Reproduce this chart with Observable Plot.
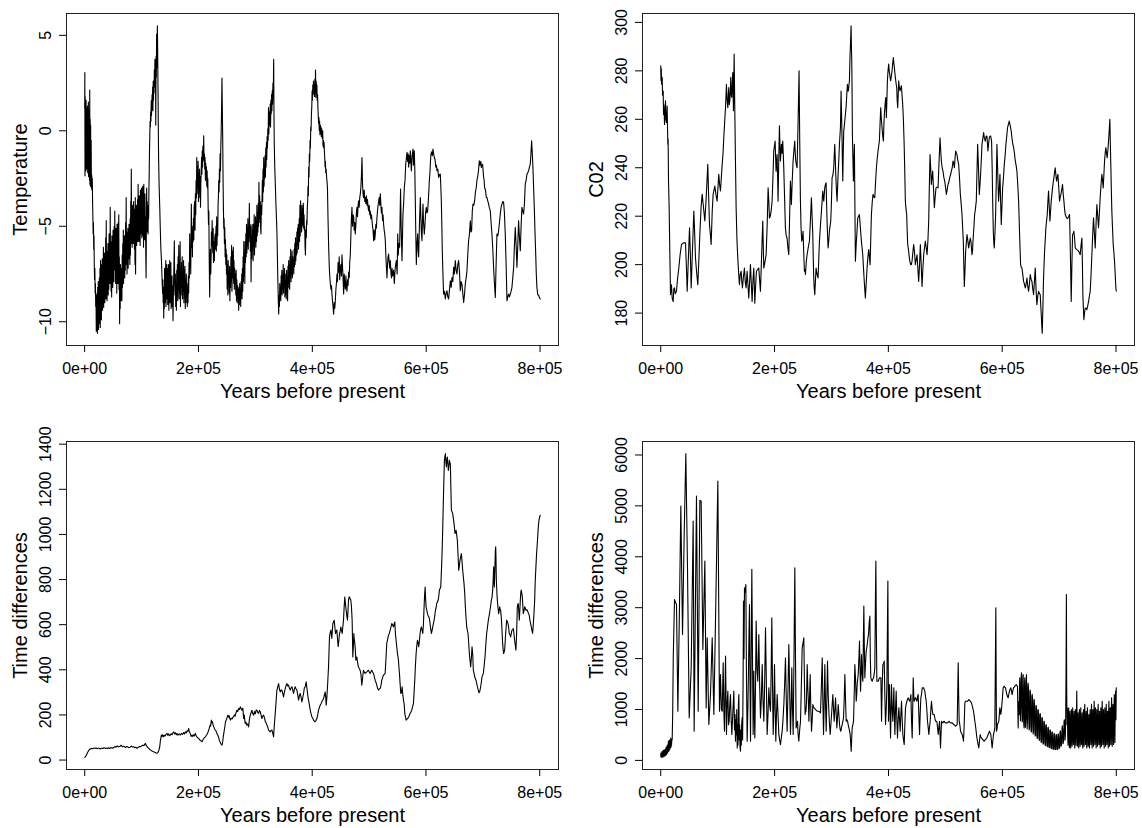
<!DOCTYPE html>
<html><head><meta charset="utf-8">
<script src="https://cdn.jsdelivr.net/npm/d3@7"></script>
<script src="https://cdn.jsdelivr.net/npm/@observablehq/plot@0.6"></script>
<style>
body{margin:0;background:#fff;}
#chart{position:relative;width:1142px;height:828px;font-family:"Liberation Sans",Arial,sans-serif;}
#chart svg{position:absolute;overflow:visible;}
</style></head><body><div id="chart"></div>
<script>
// [thousand years before present, value]
const temperature = [[0.2,1.2],[0.4,3.05],[0.7,-2.36],[1.0,1.8],[1.4,-1.9],[1.8,1.4],[2.2,-2.1],[2.6,1.6],[3.0,-1.5],[3.4,1.2],[3.8,-2.0],[4.2,1.0],[4.6,-1.6],[5.0,1.3],[5.4,-2.2],[5.8,0.9],[6.2,-1.8],[6.6,1.5],[7.0,-2.4],[7.4,0.8],[7.8,-1.9],[8.2,1.1],[8.6,-2.6],[9.0,2.13],[9.4,-2.8],[9.8,0.6],[10.2,-2.9],[10.6,0.3],[11.0,-2.6],[11.5,-0.5],[12,-3.0],[12.5,-2.3],[13,-3.1],[13.5,-2.5],[14,-3.7],[14.5,-4.5],[15,-5.4],[15.5,-4.8],[16,-6.2],[16.5,-5.5],[17,-7.0],[17.5,-7.8],[18,-7.2],[18.5,-8.5],[19,-8.0],[19.5,-9.2],[20,-8.6],[20.5,-10.5],[21,-9.0],[21.5,-10.2],[22,-8.5],[22.5,-10.6],[23,-8.2],[23.5,-10.0],[24,-7.9],[24.5,-10.4],[25,-8.4],[25.5,-9.6],[26,-7.7],[26.5,-10.1],[27,-7.2],[27.5,-10.3],[28,-6.8],[28.5,-9.5],[29,-7.4],[29.5,-9.9],[30,-7.0],[30.5,-9.2],[31,-6.7],[31.5,-9.4],[32,-7.3],[32.5,-8.9],[33,-6.1],[33.5,-9.25],[34,-6.9],[34.5,-8.7],[35,-6.4],[35.5,-9.0],[36,-7.1],[36.5,-8.4],[37,-5.6],[37.5,-8.8],[38,-4.7],[38.5,-8.1],[39,-6.3],[39.5,-8.9],[40,-6.8],[40.5,-8.2],[41,-5.9],[41.5,-8.6],[42,-6.5],[42.5,-8.3],[43,-5.4],[43.5,-7.9],[44,-6.2],[44.5,-8.0],[45,-4.0],[45.5,-7.6],[46,-5.8],[46.5,-8.4],[47,-6.3],[47.5,-8.7],[48,-5.5],[48.5,-7.8],[49,-6.6],[49.5,-8.2],[50,-5.2],[50.5,-7.4],[51,-6.0],[51.5,-7.9],[52,-5.0],[52.5,-7.1],[53,-4.2],[53.5,-7.3],[54,-5.6],[54.5,-8.0],[55,-5.1],[55.5,-7.6],[56,-6.0],[56.5,-8.5],[57,-4.9],[57.5,-7.5],[58,-5.5],[58.5,-8.0],[59,-4.8],[59.5,-7.2],[60,-4.4],[60.5,-8.3],[61,-6.6],[61.5,-10.1],[62,-7.5],[62.5,-9.3],[63,-7.0],[63.5,-8.9],[64,-7.8],[64.5,-8.6],[65,-7.2],[65.5,-8.9],[66,-6.5],[66.5,-8.2],[67,-5.9],[67.5,-7.8],[68,-5.2],[68.5,-8.0],[69,-6.0],[69.5,-7.4],[70,-5.5],[70.5,-7.7],[71,-6.2],[71.5,-7.3],[72,-4.8],[72.5,-7.0],[73,-3.5],[73.5,-6.8],[74,-5.3],[74.5,-7.5],[75,-5.8],[75.5,-7.0],[76,-5.1],[76.5,-7.2],[77,-5.5],[77.5,-6.7],[78,-4.9],[78.5,-6.3],[79,-5.6],[79.5,-7.0],[80,-4.6],[80.5,-6.5],[81,-3.7],[81.5,-5.9],[82,-2.0],[82.5,-5.4],[83,-4.2],[83.5,-6.1],[84,-3.9],[84.5,-5.7],[85,-4.4],[85.5,-5.9],[86,-3.7],[86.5,-5.6],[87,-4.5],[87.5,-6.2],[88,-4.1],[88.5,-7.0],[89,-3.5],[89.5,-7.5],[90,-4.8],[90.5,-5.8],[91,-3.9],[91.5,-6.0],[92,-4.3],[92.5,-5.5],[93,-3.6],[93.5,-5.8],[94,-2.8],[94.5,-5.3],[95,-4.0],[95.5,-5.8],[96,-3.4],[96.5,-5.2],[97,-4.6],[97.5,-6.0],[98,-3.1],[98.5,-5.4],[99,-4.2],[99.5,-5.0],[100,-3.0],[100.5,-5.6],[101,-3.8],[101.5,-5.1],[102,-2.9],[102.5,-5.5],[103,-3.6],[103.5,-6.1],[104,-2.8],[104.5,-5.0],[105,-4.1],[105.5,-5.7],[106,-3.3],[106.5,-5.2],[107,-4.5],[107.5,-6.6],[108,-7.7],[108.5,-4.8],[109,-3.0],[109.5,-5.3],[110,-3.7],[110.5,-5.0],[111,-4.2],[111.5,-5.4],[112,-3.9],[112.5,-4.6],[113,-3.0],[113.5,-2.2],[114,-1.0],[114.5,-0.3],[115,0.5],[115.5,0.2],[116,1.0],[116.5,0.5],[117,1.57],[117.5,0.8],[118,1.3],[118.5,1.9],[119,1.1],[119.5,2.3],[120,1.05],[120.5,2.6],[121,1.6],[121.5,2.4],[122,2.0],[122.5,3.2],[123,2.3],[123.5,3.75],[124,2.5],[124.5,3.4],[125,0.3],[125.5,3.9],[126,2.8],[126.5,5.06],[127,3.3],[127.5,4.6],[127.8,5.5],[128.3,4.2],[129,2.0],[129.5,0.0],[130,-1.5],[131,-3.0],[132,-4.0],[133,-5.2],[134,-6.2],[135,-6.8],[136,-7.7],[137,-8.5],[137.5,-7.8],[138,-9.0],[138.5,-8.2],[139,-9.8],[139.5,-8.4],[140,-9.3],[140.5,-7.2],[141,-9.0],[141.5,-7.6],[142,-8.5],[142.5,-6.8],[143,-9.2],[143.5,-7.5],[144,-8.8],[144.5,-7.0],[145,-8.3],[145.5,-7.8],[146,-9.1],[146.5,-7.2],[147,-8.6],[147.5,-7.0],[148,-9.4],[148.5,-7.9],[149,-8.4],[149.5,-6.8],[150,-9.0],[150.5,-7.5],[151,-8.8],[151.5,-6.9],[152,-9.3],[152.5,-8.0],[153,-8.9],[153.5,-7.6],[154,-9.2],[154.5,-8.1],[155.3,-9.95],[156,-8.4],[156.8,-7.2],[157.6,-5.76],[158.2,-7.9],[158.8,-8.6],[159.4,-7.5],[160,-9.2],[160.6,-8.0],[161.2,-9.4],[161.8,-7.3],[162.4,-8.7],[163,-7.0],[163.6,-8.9],[164.2,-6.6],[164.8,-8.3],[165.4,-6.0],[166,-8.8],[166.6,-7.1],[167.2,-8.5],[167.8,-5.8],[168.4,-9.2],[169,-7.4],[169.6,-8.6],[170.2,-6.9],[170.8,-8.2],[171.4,-6.6],[172,-8.8],[172.6,-7.5],[173.2,-8.4],[173.8,-6.8],[174.4,-9.0],[175,-7.3],[175.6,-8.7],[176.2,-7.1],[176.8,-9.3],[177.4,-7.8],[178,-9.0],[178.6,-7.5],[179.2,-8.6],[179.8,-8.0],[180.4,-9.2],[181,-8.3],[181.6,-9.0],[182.2,-7.6],[182.8,-8.5],[183.4,-6.9],[184,-7.7],[184.6,-5.4],[185.2,-7.1],[185.8,-6.4],[186.4,-7.5],[187.5,-3.84],[188.2,-6.1],[188.8,-5.3],[189.4,-6.6],[190,-5.0],[190.6,-5.8],[191.2,-4.6],[191.8,-5.7],[192.4,-4.0],[193.3,-3.7],[194,-5.2],[194.6,-3.3],[195.2,-4.4],[195.8,-2.6],[196.4,-3.5],[197,-1.4],[197.6,-2.97],[198.2,-1.9],[198.8,-3.3],[199.4,-1.6],[200,-3.7],[200.6,-2.2],[201.2,-3.1],[201.8,-2.0],[202.4,-3.5],[203,-2.4],[203.6,-4.0],[204.2,-2.7],[204.8,-2.1],[205.4,-1.4],[206,-2.27],[206.6,-1.05],[207.2,-1.9],[207.8,-0.8],[208.6,-1.5],[209.2,-0.26],[209.8,-1.6],[210.4,-1.2],[211,-2.0],[211.6,-1.4],[212.2,-2.6],[212.8,-1.7],[213.4,-2.4],[214,-1.9],[214.6,-2.9],[215.2,-2.1],[215.8,-3.0],[216.4,-2.5],[217,-4.0],[217.6,-4.9],[218.2,-4.2],[218.8,-6.5],[219.7,-8.7],[220.4,-7.0],[221,-6.2],[221.6,-7.5],[222.2,-6.6],[222.8,-5.3],[223.4,-6.0],[224,-4.7],[224.6,-5.9],[225.2,-6.4],[225.8,-5.1],[226.4,-6.9],[227,-5.8],[227.9,-6.8],[228.6,-5.6],[229.6,-5.4],[230.2,-6.2],[230.8,-5.0],[231.4,-6.3],[232,-4.5],[232.6,-6.0],[233.2,-4.9],[233.8,-5.5],[234.4,-3.9],[235,-3.5],[235.6,-2.6],[236.2,-3.2],[236.8,-2.0],[237.4,-2.7],[238,-1.2],[238.6,-2.1],[239.2,-0.9],[239.8,-0.2],[240.4,0.8],[241.3,2.76],[242,1.0],[242.6,-0.5],[243.2,-2.5],[243.8,-4.0],[244.4,-5.1],[245,-4.6],[245.6,-5.9],[246.2,-5.06],[246.8,-6.6],[247.4,-5.7],[248,-7.0],[248.6,-6.2],[249.2,-7.5],[249.8,-6.5],[250.4,-8.3],[251,-7.0],[251.6,-8.6],[252.2,-6.8],[252.8,-8.0],[253.4,-7.4],[254,-8.5],[254.6,-7.1],[255.2,-8.9],[255.8,-7.6],[256.4,-8.2],[257,-6.6],[257.6,-7.9],[258.2,-6.0],[258.8,-8.4],[259.4,-7.0],[260,-6.3],[260.6,-7.7],[261.2,-6.1],[261.8,-8.0],[262.4,-6.8],[263,-8.3],[263.6,-7.2],[264.2,-8.0],[265,-7.5],[265.6,-8.6],[266.2,-7.3],[266.8,-8.9],[267.4,-7.8],[268,-9.0],[268.6,-8.1],[269.2,-8.7],[269.8,-8.3],[270.6,-9.4],[271.2,-8.2],[271.8,-9.1],[272.4,-8.0],[273,-8.8],[273.6,-8.4],[274.2,-9.2],[274.8,-7.9],[275.4,-8.6],[276,-7.5],[276.6,-8.8],[277.2,-7.2],[277.8,-8.4],[278.4,-6.6],[279,-7.9],[279.6,-5.8],[280.2,-7.6],[280.8,-6.4],[281.4,-8.0],[282,-5.8],[282.6,-6.9],[283.2,-5.4],[283.8,-6.6],[284.4,-4.9],[285,-6.4],[285.6,-5.1],[286.2,-6.0],[286.8,-4.6],[287.4,-6.2],[288,-5.3],[288.6,-5.8],[289.4,-3.8],[290,-5.6],[290.6,-4.9],[291.2,-6.3],[291.8,-5.0],[292.4,-7.9],[293,-5.5],[293.6,-6.7],[294.2,-4.9],[294.8,-6.2],[295.4,-5.2],[296,-6.8],[296.6,-4.9],[297.2,-6.0],[297.8,-4.4],[298.4,-6.5],[299,-5.0],[299.6,-5.7],[300.2,-4.5],[300.8,-6.1],[301.4,-4.7],[302,-5.8],[302.6,-3.9],[303.2,-5.5],[303.8,-4.3],[304.4,-5.3],[305,-3.8],[305.6,-5.0],[306.2,-2.7],[306.8,-4.6],[307.4,-3.4],[308,-4.8],[308.6,-3.7],[309.2,-5.1],[309.8,-5.4],[310.4,-3.9],[311,-4.4],[311.6,-3.66],[312.2,-2.6],[312.8,-3.7],[313.4,-2.0],[314,-3.2],[314.6,-1.4],[315.2,-2.9],[315.8,-1.8],[316.4,-2.5],[317,-1.3],[317.6,-2.4],[318.2,-0.9],[318.8,-1.9],[319.4,-0.6],[320,-1.5],[320.6,-0.3],[321.2,-0.9],[321.8,0.1],[322.4,-0.5],[323,1.22],[323.6,-0.17],[324.2,0.6],[324.8,1.0],[325.4,0.3],[326,1.4],[326.6,0.2],[327.2,1.6],[327.8,0.9],[328.4,1.9],[329,1.05],[329.6,2.1],[330.2,1.4],[330.8,2.5],[331.4,1.8],[332.1,3.75],[332.6,1.0],[333.2,-0.8],[334,-1.9],[335,-2.8],[336,-3.8],[337,-4.6],[337.9,-5.4],[338.6,-6.5],[339.4,-7.8],[340.2,-8.8],[340.9,-9.6],[341.6,-8.6],[342.2,-9.2],[342.8,-8.0],[343.4,-8.8],[344,-8.2],[344.6,-8.9],[345.2,-7.6],[345.8,-8.5],[346.4,-7.3],[347,-8.6],[347.6,-7.8],[348.2,-8.3],[348.8,-7.0],[349.4,-8.5],[350,-7.6],[350.6,-8.1],[351.2,-7.2],[351.8,-8.7],[352.4,-7.9],[353,-8.6],[353.6,-7.5],[354.2,-8.8],[354.8,-7.3],[355.4,-8.4],[356,-7.8],[356.6,-8.9],[357.2,-7.1],[357.8,-8.2],[358.4,-6.8],[359,-8.0],[359.6,-7.0],[360.2,-8.3],[360.8,-6.6],[361.4,-7.7],[362,-6.2],[362.6,-7.9],[363.2,-6.9],[363.8,-7.5],[364.4,-6.3],[365,-7.7],[365.6,-6.6],[366.2,-7.2],[366.8,-6.9],[367.4,-7.5],[368,-6.2],[368.6,-7.1],[369.2,-5.9],[369.8,-7.0],[370.4,-5.6],[371,-6.8],[371.6,-5.9],[372.2,-6.5],[372.8,-5.3],[373.4,-6.4],[374,-5.1],[374.6,-6.0],[375.2,-4.9],[375.8,-6.2],[376.4,-5.4],[377,-4.6],[377.6,-5.8],[378.2,-3.9],[378.8,-5.5],[379.4,-3.66],[380,-5.0],[380.6,-4.4],[381.2,-5.3],[381.8,-3.9],[382.4,-5.0],[383,-4.1],[383.6,-4.9],[384.2,-3.8],[384.8,-5.1],[385.4,-4.4],[386,-5.2],[386.6,-5.0],[387.2,-6.0],[387.9,-6.5],[388.6,-5.2],[389.4,-5.6],[390,-4.7],[390.6,-4.9],[391.2,-4.0],[391.8,-3.7],[392.4,-2.9],[393,-3.4],[393.6,-1.9],[394.2,-2.4],[394.8,-1.2],[395.4,-1.6],[396,-0.5],[396.6,-0.9],[397.2,0.2],[397.8,0.0],[398.4,0.9],[399,1.2],[399.6,2.1],[400.2,1.6],[400.8,2.4],[401.4,1.9],[402,2.6],[402.6,2.1],[403.2,2.4],[403.8,1.8],[404.4,2.7],[405,2.0],[405.6,3.18],[406.2,1.75],[406.8,2.6],[407.4,1.9],[408,2.4],[408.6,1.6],[409.2,1.9],[409.8,1.2],[410.4,0.8],[411,0.4],[411.6,0.7],[412.2,0.0],[412.8,0.5],[413.4,-0.2],[414,0.3],[414.6,-0.1],[415.2,0.2],[415.8,-0.3],[416.4,0.1],[417,-0.2],[417.6,-0.4],[418.2,0.0],[418.8,-0.8],[419.4,-0.5],[420,-0.9],[420.6,-0.6],[421.2,-1.1],[421.8,-1.4],[422.4,-1.9],[423,-1.6],[423.6,-2.2],[424.2,-2.0],[425,-2.4],[425.7,-2.6],[426.6,-3.0],[427.5,-4.5],[428.6,-6.0],[429.8,-7.15],[430.6,-7.6],[431.6,-8.0],[432.6,-8.3],[433.6,-8.1],[434.5,-8.55],[435.4,-8.9],[436.4,-9.2],[437.4,-9.6],[438.4,-9.0],[439.4,-9.3],[440.4,-8.9],[441.4,-8.3],[442.3,-8.0],[443.3,-7.5],[444.2,-7.9],[445.2,-6.9],[446.2,-7.4],[447.2,-6.6],[448.1,-7.8],[449.1,-7.2],[450.1,-7.0],[451.1,-7.6],[452.1,-6.5],[453,-7.1],[454,-7.7],[455,-8.55],[456,-7.5],[457,-8.0],[457.9,-8.3],[459,-7.6],[460,-8.2],[460.9,-8.4],[461.9,-7.8],[462.8,-8.1],[463.8,-7.4],[464.8,-7.7],[465.7,-6.9],[466.7,-6.5],[467.7,-5.5],[468.6,-4.6],[469.6,-4.0],[470.6,-5.0],[471.6,-4.4],[472.6,-4.5],[473.5,-5.2],[474.5,-4.8],[475.5,-5.4],[476.5,-4.9],[477.4,-4.3],[478.4,-4.0],[479.4,-4.5],[480.4,-3.9],[481.3,-3.66],[482.3,-4.0],[483.3,-3.5],[484.3,-3.3],[485.2,-3.0],[486.2,-2.4],[487.2,-1.4],[488.2,-2.8],[489.1,-3.3],[490.1,-3.5],[491.1,-3.1],[492.1,-3.7],[493,-3.5],[494,-3.8],[495,-3.4],[496,-3.9],[496.9,-3.6],[497.9,-4.0],[498.9,-4.2],[499.9,-3.9],[500.8,-4.4],[501.8,-4.2],[502.8,-4.6],[503.8,-4.4],[504.8,-4.7],[505.7,-5.0],[506.7,-5.2],[507.7,-5.76],[508.6,-5.2],[509.6,-5.7],[510.6,-5.4],[511.6,-4.9],[512.5,-5.1],[513.5,-4.54],[514.5,-4.2],[515.5,-3.9],[516.5,-3.7],[517.4,-3.5],[518.4,-3.9],[519.4,-3.3],[520.3,-3.8],[521.3,-4.3],[522.3,-4.0],[523.3,-4.7],[524.2,-4.4],[525.2,-4.9],[526.2,-5.2],[527.2,-5.4],[528.2,-5.76],[529.1,-6.5],[530.1,-7.1],[531.1,-7.7],[532.1,-7.0],[533,-6.6],[534,-6.46],[535,-6.9],[536,-7.2],[537,-6.8],[538,-7.4],[539,-7.7],[540,-7.2],[541,-7.6],[542.8,-7.3],[544,-8.0],[545.5,-7.2],[547.5,-6.8],[549,-7.5],[550,-5.4],[551,-6.5],[552,-5.9],[553.4,-6.1],[554.2,-4.5],[555,-3.05],[556,-5.0],[557.5,-6.8],[558.4,-5.5],[559.2,-4.36],[560.4,-3.8],[561.6,-2.97],[562.8,-2.6],[564,-1.75],[565,-1.5],[566.3,-1.13],[567.4,-1.6],[568.3,-1.2],[569.2,-1.9],[570.2,-1.3],[571.2,-1.7],[572.1,-1.05],[573,-1.5],[573.9,-2.1],[575,-1.4],[576.8,-0.96],[577.6,-1.8],[578.4,-1.3],[579.1,-1.05],[580,-2.0],[580.9,-3.66],[581.8,-5.5],[582.7,-7.0],[583.6,-6.0],[585,-5.4],[585.9,-6.3],[586.8,-6.6],[588,-5.0],[589.7,-3.49],[590.6,-4.5],[591.5,-5.3],[592.6,-5.76],[593.5,-4.6],[594.4,-3.84],[595.3,-4.8],[596.7,-5.41],[597.8,-4.9],[599,-4.3],[600.2,-4.01],[601.4,-4.3],[602.6,-4.19],[603.8,-3.6],[604.6,-3.2],[605.5,-2.62],[606.6,-2.2],[607.5,-1.6],[608.4,-1.22],[609.6,-1.1],[610.8,-1.3],[611.9,-0.96],[613.1,-1.2],[614.3,-1.4],[615.5,-1.5],[616.5,-1.8],[617.2,-1.92],[618.1,-1.8],[618.9,-2.09],[620.4,-2.0],[621.9,-2.44],[623.4,-2.3],[624.8,-2.27],[625.7,-2.9],[626.6,-3.66],[627.4,-4.8],[628.3,-6.28],[629.4,-7.5],[630.6,-8.55],[632,-8.4],[633.6,-8.81],[635,-8.5],[636.5,-8.38],[638,-8.7],[639.4,-8.81],[641,-8.3],[642.4,-7.85],[643.8,-8.2],[645.3,-7.68],[646.8,-7.9],[648.2,-7.15],[649.6,-7.5],[651.1,-6.8],[652.6,-7.3],[654.1,-7.5],[655.5,-7.0],[657,-6.8],[658.5,-7.4],[659.9,-8.38],[661.4,-7.9],[662.8,-8.03],[664.3,-8.5],[665.8,-8.99],[667.2,-8.6],[668.7,-8.03],[670.2,-7.7],[671.6,-7.33],[673,-6.5],[674.5,-5.76],[676,-5.4],[677.5,-4.71],[678.6,-5.3],[679.8,-5.23],[681,-4.2],[682.2,-3.84],[683.6,-3.9],[685.1,-3.66],[686.5,-3.2],[688,-2.97],[689.1,-2.6],[690.3,-2.44],[691.8,-2.1],[693.3,-1.57],[694.2,-1.8],[695,-1.75],[696,-1.6],[696.8,-1.92],[698,-1.8],[699.1,-1.75],[700,-2.1],[700.9,-2.44],[701.8,-2.6],[702.6,-2.97],[704.1,-3.1],[705.6,-3.49],[706.8,-3.5],[708,-3.66],[709.4,-3.8],[710.8,-4.01],[711.7,-4.1],[712.6,-4.19],[714,-4.8],[715.5,-5.41],[717,-6.2],[718.4,-7.15],[719.9,-8.0],[721.4,-8.73],[722.8,-7.0],[724.3,-5.41],[725.8,-5.5],[727.2,-5.23],[728.7,-4.8],[730.1,-4.36],[731.6,-4.0],[733.1,-3.84],[734.5,-3.7],[736,-3.75],[737.4,-4.3],[738.9,-5.41],[740.4,-7.0],[741.9,-8.9],[743.3,-8.7],[744.8,-8.55],[746.2,-8.7],[747.7,-8.55],[749.2,-8.4],[750.6,-8.2],[752.1,-7.7],[753.6,-7.15],[755,-6.0],[756.5,-5.06],[758,-6.0],[759.4,-7.15],[760.9,-6.0],[762.3,-4.71],[763.8,-5.6],[765.3,-6.28],[766.7,-5.0],[768.2,-4.01],[769.6,-4.2],[771.1,-4.36],[772.6,-3.8],[774,-2.79],[775.5,-2.6],[777,-2.27],[778.4,-2.2],[779.9,-2.09],[781.4,-1.9],[782.8,-1.75],[784,-1.2],[785.2,-0.52],[786.4,-1.2],[787.5,-1.92],[788.7,-3.0],[789.9,-4.01],[791,-5.2],[792.2,-6.28],[793.4,-7.5],[794.5,-8.2],[796,-8.6],[797.5,-8.6],[799,-8.75],[800.4,-8.81]];

const co2 = [[0,282.1],[0.5,276],[1,281],[1.6,274.5],[2.6,277.3],[3.2,270],[4.3,271.7],[5,262],[5.6,266],[6.7,257.9],[7.5,262],[8.4,267.6],[9.2,260],[10.2,258.6],[11.3,265.5],[12.5,249.7],[13,252],[13.7,234.5],[14.8,223.5],[16,205],[17.2,187.6],[18.9,191.7],[20.2,186],[21.9,184.8],[23,190],[24.2,190.4],[25.5,188],[27.7,189],[29.5,194],[31.8,198.6],[34,204],[36.5,208.3],[40,209],[43.5,209],[45,200],[46.5,189],[48.5,202],[50.6,215.2],[52,205],[53.5,190.4],[55.5,204],[58.2,222.1],[59.5,214],[61.1,202.8],[63,197],[65.2,191.7],[67,202],[69,214],[71,224],[72.8,229],[75,224],[77.5,218],[80,228],[82.7,241.4],[84,230],[85.7,216.6],[87,213],[88.6,208.3],[90.5,222],[92.1,229],[95,232.4],[97,229],[99.1,226.2],[102,237.3],[103.5,233],[105,230.4],[108,241.4],[109.5,246],[110.8,252.4],[112.4,259],[113.8,264.8],[115.5,274.5],[116.6,268],[117.9,264.8],[118.8,270],[119.6,273.1],[120.5,266],[121.4,267.6],[122.3,272],[123.1,277.3],[124,270],[124.9,269],[125.8,275],[126.6,279.3],[127.3,270],[127.8,263.5],[128.4,275],[129,286.9],[129.6,275],[130.2,263.5],[131.2,245],[132.5,223.5],[134,210],[135.4,202.8],[136.8,197],[138.3,191.7],[139.7,196],[141.3,197.3],[142.5,193],[143.6,190.4],[145.3,195],[147.1,198.6],[148.5,193],[150,190.4],[151.8,197.3],[153.2,192],[154.7,186.2],[156.2,193],[157.7,200],[159.2,192],[160.6,184.8],[162,193],[163.5,198.6],[164.4,192],[165.3,184.1],[166.7,191],[168.2,197.3],[170.2,198],[172.3,198.6],[173.7,194],[175.2,189],[177.2,203],[179.3,218],[180.2,208],[181.1,198.6],[183.1,201],[185.2,204.1],[187,216],[188.7,231.7],[190,226],[191,219.3],[192.5,220],[194,222.1],[195.7,226.2],[197.2,236],[198.6,246.9],[199.8,249],[201,251],[202.7,238.6],[203.6,242],[204.5,245.5],[205.4,236],[206.2,226.2],[207.4,243],[208.6,257.3],[209.4,250],[210.3,242.8],[211.2,246],[212.1,249.7],[213.3,246],[214.4,251],[215.3,246],[216.2,240],[217.6,228],[219.1,215.2],[220.5,212],[222,211],[223.5,207],[225,204.1],[226.5,220],[227.9,234.5],[228.8,230],[229.6,224.8],[231,234],[232.6,242.8],[234,247],[235.5,251],[236.4,246],[237.3,242.8],[238.5,241],[239.6,240],[241.3,258],[243.1,280],[244.3,250],[245.5,226.2],[246.6,215],[247.8,209.7],[249,211],[250.1,213.8],[251.3,205],[252.5,197.3],[253.6,198],[254.3,195.9],[255.7,201],[257.2,204.1],[259.2,207],[261.3,209.7],[263,218],[264.8,227.6],[266,220],[267.2,212.4],[268,203],[268.9,194.5],[269.8,190],[270.7,187.6],[271.8,193],[273,198.6],[274.7,196],[276.5,194.5],[277.7,202],[278.9,209.7],[280.6,216],[282.4,222.1],[283.5,226],[284.7,230.4],[285.6,228],[286.5,226.2],[287.4,229],[288.2,231.7],[289.4,233],[290.6,233.8],[291.5,225],[292.3,218],[293.2,212],[294.1,206.9],[295.3,210],[296.4,213.8],[297.6,216],[298.8,218],[300,226],[301.1,235.9],[302.6,237],[304,240],[304.9,245],[305.8,249.7],[306.7,244],[307.6,237.3],[308.7,231],[309.9,226.2],[310.8,232],[311.7,237.3],[312.9,243],[314,249.7],[314.9,253],[315.8,256.6],[316.4,264],[316.9,271.7],[317.8,262],[318.7,251],[319.3,242],[319.9,234.5],[320.8,247],[321.6,255.2],[322.5,257],[323.4,259.3],[324.5,262],[325.7,264.8],[326.9,270],[328.1,274.5],[329,271.7],[329.8,271.7],[330.7,274],[331.6,275.9],[332.2,282],[332.7,286.9],[333.6,292],[334.5,298.6],[335.1,290],[335.7,284.2],[336.3,270],[336.8,253.8],[337.7,244],[338.6,234.5],[339.5,244],[340.3,249.7],[341.2,225],[342.1,201.4],[343,206],[343.8,209.7],[345,214],[346.2,219.3],[347.6,220],[349.1,220.7],[350.9,215],[352.6,209.7],[353.8,207],[355,204.1],[356.2,199],[357.3,194.5],[358.5,190],[359.6,186.2],[361,192],[362.6,198.6],[364,203],[365.5,206.2],[366.7,203],[367.9,200],[369,210],[370.2,220.7],[371.7,226],[373.1,229],[374.6,228],[376.1,227.6],[377.5,234],[379,240],[380.5,244],[381.9,246.9],[383,249],[384.2,251],[385.4,258],[386.6,264.8],[387.7,260],[388.9,256.6],[390.1,253],[391.3,251],[392.2,258],[393,262.1],[394.2,266],[395.4,269],[396,265],[396.5,260.7],[397.4,268],[398.3,275.9],[399.4,280],[400.6,282.8],[401.5,280],[402.4,278.6],[403.2,277],[404.1,275.9],[405.3,278],[406.5,280],[407.6,283],[408.8,285.5],[409.7,283],[410.6,281.4],[411.5,279],[412.3,277.3],[413.5,275],[414.7,273.1],[415.5,268],[416.4,264.8],[417.3,270],[418.2,275.9],[419.4,273],[420.5,271.7],[421.7,273],[422.9,273.8],[424,270],[425.2,266.2],[426.4,260],[427.6,251],[428.7,240],[429.9,226.2],[431,223],[432.2,220.7],[433.1,214],[434,208.3],[435.4,206],[436.9,202.8],[438.1,201],[439.3,200],[440.4,200],[441.6,201.4],[443,205],[444.5,208.3],[446,205],[447.4,200],[448.9,202],[450.4,204.1],[451.9,198],[453.3,193.1],[454.8,200],[456.2,208.3],[457.7,200],[459.2,191],[460.6,198],[462.1,204.1],[463.5,207],[465,209.7],[466.5,207],[468,204.1],[469.5,210],[470.9,218],[472,232],[473.2,245.5],[474.4,240],[475.5,233.1],[476.7,236],[477.9,238.6],[479.4,231],[480.8,223.5],[482.3,228],[483.7,231.7],[485.5,232],[487.3,231.7],[489,242],[490.8,252.4],[492,247],[493.1,242.8],[494.6,240],[496,238.6],[497.5,236],[499,234.5],[500.5,232],[501.9,229],[503.4,231],[504.8,233.1],[506.2,234],[507.7,235.9],[509.2,237],[510.7,238.6],[512.2,240],[513.6,242.8],[514.8,242],[516,240],[517.2,244],[518.3,246.9],[519.5,246],[520.6,245.5],[522,243],[523.5,241.4],[525,236],[526.5,229],[528,225],[529.4,220.7],[530.6,215],[531.7,209.7],[532.6,200],[533.5,191],[534.7,198],[535.8,205.5],[537,209],[538.2,212.4],[539.6,210],[541.1,206.9],[542.5,209],[544,211],[545.4,209],[546.9,204.1],[548,206],[548.7,209.7],[550.2,215],[551.6,220.7],[553,223],[554.5,226.2],[555.7,238],[556.9,249.7],[558.4,240],[559.8,229],[561,233],[562.1,237.3],[563.3,243],[564.5,249.7],[566,252],[567.4,254.5],[568.9,252],[570.3,251],[571.8,253],[573.2,253.1],[574.1,250],[575,246.9],[576.2,250],[577.3,252.4],[578.5,253],[579.7,253.1],[580.6,252],[581.4,251],[582.4,240],[583.4,225],[584.4,213.8],[585.3,209],[586.1,206.9],[587.3,213],[588.5,220.7],[589.7,235],[590.8,249.7],[592.3,237],[593.7,226.2],[594.9,231],[596.1,237.3],[597.2,227],[598.4,216.6],[599.6,224],[600.8,231.7],[602.3,236],[603.7,241.4],[605.2,245],[606.6,249.7],[608,253],[609.5,256.6],[611,258],[612.5,259.3],[613.6,258],[614.8,256.6],[616,255],[617.1,252.4],[618.6,250],[620.1,248.3],[621.6,246],[623,242.8],[624.5,241],[625.9,238.6],[627.4,233],[628.9,226.2],[629.7,220],[630.6,212.4],[631.5,206],[632.4,200],[633.5,199],[634.7,198.6],[636.2,196],[637.6,193.1],[639.1,192],[640.6,190.4],[642,192],[643.5,194.5],[645,191],[646.4,189],[647.9,192],[649.3,195.9],[650.8,194],[652.3,193.1],[653.7,190],[655.2,187.6],[656.6,193],[658.1,198.6],[659.5,190],[661,183.5],[662.5,187],[664,189],[665.5,188],[666.9,187.6],[667.8,183],[668.7,179.3],[669.5,175],[670.4,171.7],[671.5,182],[672.7,194.5],[673.6,200],[674.5,205.5],[675.6,210],[676.8,215.2],[678,218],[679.2,220.7],[680.3,226],[681.5,230.4],[682.7,224],[683.9,218],[685,222],[686.2,226.2],[687.4,229],[688.5,231.7],[689.7,234],[690.9,235.9],[692,238],[693.2,240],[694.4,237],[695.6,234.5],[696.8,236],[697.9,237.3],[699.4,232],[700.8,226.2],[702,228],[703.2,229],[704.6,231],[706.1,233.1],[707.3,229],[708.5,226.2],[709.6,223],[710.8,220.7],[712,220],[713.1,219.3],[714.3,219],[715.5,219.3],[717,220],[718.4,220.7],[719.2,212],[720.2,200],[721.3,184.8],[722.5,200],[723.7,212.4],[724.9,213],[726,213.8],[727.2,211],[728.4,206.9],[729.8,206.5],[731.3,206.2],[732.8,206],[734.2,205.5],[735.6,205],[737.1,204.1],[738.6,208],[740.1,211],[741,200],[741.8,187.6],[742.7,182],[743.6,177.3],[744.7,180],[745.9,182.1],[747.3,182],[748.8,181.4],[750.3,183],[751.8,184.8],[753.2,187],[754.7,189],[756.2,196],[757.6,204.1],[759,212],[760.5,219.3],[762,213],[763.5,206.9],[765,217],[766.4,224.8],[767.9,220],[769.3,215.2],[770.7,221],[772.2,227.6],[773.7,233],[775.2,237.3],[776.3,235],[777.5,231.7],[778.7,237],[779.9,242.8],[781,246],[782.2,248.3],[783.4,246],[784.5,244.1],[785.7,247],[786.9,251],[788,255],[789.2,260],[790.1,250],[791,240],[791.9,230],[792.7,222.1],[793.9,215],[795.1,208.3],[796.3,205],[797.4,201.4],[798.6,196],[799.8,190.4],[800.5,189]];

const tempGaps = [[0,12],[1,14],[2,18],[3,22],[4,28],[5,33],[6,38],[7,42],[8,46],[9,48],[10,50],[11,49],[12,52],[14,50],[16,53],[18.9,52],[20,54],[22,50],[24,53],[26,51],[27.7,49],[30,53],[32,51],[34,55],[36,52],[39.4,52],[42,54],[44,51],[46,56],[48,53],[51.1,55],[53,60],[55,57],[57,63],[59,58],[61,60],[62.8,62],[64,66],[66,59],[68,61],[69.8,59],[72,56],[74,60],[76,58],[77.4,55],[80,57],[82,62],[84,58],[86.2,59],[88,55],[90,57],[92.1,52],[94,56],[96,60],[97.9,59],[100,62],[102,66],[104,64],[106.7,74],[108,66],[110,58],[112.6,52],[114,48],[116,44],[118.4,40],[120,38],[122,36],[124,33],[126,31],[127.2,30],[128.5,33],[130,40],[131.9,59],[133,85],[134.8,111],[136,104],[137,112],[138.9,103],[140,110],[141.5,107],[143,115],[144.8,118],[146,110],[147.5,116],[149,108],[150.6,111],[152,117],[153.5,112],[155,120],[156.5,125],[158,116],[159.5,121],[161,112],[162.3,118],[164,110],[166,116],[168.2,111],[170,118],[172,114],[174,122],[175.5,115],[177,125],[178.5,120],[180,130],[181.5,128],[182.8,140],[184,124],[185.5,118],[187,105],[188.6,111],[190,104],[191.5,112],[193,107],[194.5,118],[196,108],[198,100],[200.3,96],[202,90],[204,86],[206.2,81],[208,90],[210,98],[212,103],[214,110],[216,118],[217.9,133],[219,140],[220.5,155],[221.5,150],[222.6,177],[223.5,165],[224.5,170],[225.5,158],[226.7,148],[228,140],[229.6,133],[231,128],[232.5,118],[234,110],[235.5,100],[236.6,88],[238,80],[239.5,72],[241.3,66],[242.5,80],[243.5,100],[244.5,118],[245.4,133],[246.5,150],[247.5,170],[248.9,177],[250,185],[251,195],[251.9,199],[253,190],[254,196],[255,186],[256,177],[257.5,185],[259,182],[260.5,190],[261.9,192],[263,200],[264.5,195],[266,210],[267.7,221],[269,215],[270.5,228],[272,224],[273.6,236],[275,228],[276.5,221],[278,230],[279.4,184],[280.5,200],[281.5,175],[282.3,162],[283.5,168],[285,155],[286.5,160],[288.2,147],[289.5,180],[291.1,199],[292.5,210],[294,221],[295.5,205],[297,199],[298.5,215],[300,205],[301.5,222],[302.8,221],[304.3,210],[305.8,207],[307.2,220],[308.7,214],[310,200],[311.6,184],[313,195],[314.5,199],[316,188],[317.5,170],[319,165],[320.4,155],[322,145],[323.3,133],[325,128],[326.2,125],[327.8,131],[329.2,133],[330.5,120],[332.1,103],[333.5,160],[335,207],[336.5,260],[337.9,310],[339.5,325],[340.9,339],[342.3,315],[343.8,302],[345.2,310],[346.7,310],[348.2,295],[349.6,280],[351,300],[352.6,317],[354,330],[355.5,339],[357,328],[358.4,332],[360,318],[361.4,310],[362.8,320],[364.3,325],[365.8,310],[367.2,295],[368.7,315],[370.1,325],[371.6,315],[373.1,310],[374.5,290],[376,266],[377.5,285],[378.9,295],[380.3,280],[381.8,258],[383.3,275],[384.8,295],[386.2,320],[387.7,325],[389.4,347],[390.6,320],[391.8,295],[393,272],[394.1,258],[395.3,240],[396.5,221],[398,205],[399.4,192],[401,185],[402.3,177],[403.8,172],[405.2,170],[406.7,176],[408.2,184],[409.6,200],[411.1,221],[412.5,232],[414,243],[415.5,250],[416.9,258],[418.4,265],[419.9,273],[421.3,285],[422.8,302],[423.7,280],[424.6,243],[425.8,280],[426.9,325],[427.8,370],[428.7,413],[429.5,480],[430.4,546],[431.6,565],[432.8,576],[433.6,560],[434.5,539],[435.4,575],[436.3,605],[437.4,612],[438.6,620],[439.8,590],[440.9,561],[442.1,570],[443.3,576],[444.4,540],[445.6,502],[446.8,530],[448,561],[449.1,570],[450.3,590],[451.5,575],[452.7,561],[453.8,590],[455,620],[456.2,680],[457.3,723],[458.5,690],[459.7,664],[460.8,640],[462,620],[462.9,660],[463.8,708],[464.6,720],[465.5,723],[466.7,715],[467.9,708],[469,680],[470.2,620],[470.8,540],[471.4,457],[472.3,500],[473.2,561],[474,535],[474.9,517],[475.8,490],[476.7,443],[477.5,450],[478.4,457],[479.9,430],[481.3,413],[482.8,405],[484.3,398],[485.7,380],[487.2,332],[488.6,365],[490.1,398],[491.5,390],[493,384],[494.5,388],[496,391],[497.4,395],[498.9,398],[500.3,390],[501.8,384],[503.3,392],[504.8,398],[506.2,390],[507.7,384],[509.2,370],[510.6,354],[512,345],[513.5,332],[515,318],[516.5,310],[518,315],[519.4,317],[520.9,330],[522.3,354],[523.7,365],[525.2,376],[526.7,380],[528.2,384],[529.7,450],[531.1,517],[532.6,535],[534,553],[535.5,560],[537,576],[538.5,590],[539.9,605],[541.3,600],[542.8,590],[544,602],[545.2,612],[546.3,560],[547.5,531],[548.7,500],[549.9,472],[550.7,460],[551.6,443],[552.5,410],[553.4,384],[554.5,340],[555.7,295],[556.9,300],[558.1,325],[559.3,290],[560.4,266],[561.6,250],[562.8,207],[564,190],[565.1,177],[566.2,180],[567.4,184],[568.6,187],[569.8,192],[571,200],[572.1,207],[573.5,212],[575,221],[576.5,236],[578,251],[579.1,300],[580.3,354],[581.5,420],[582.7,472],[583.8,505],[585,531],[586.1,520],[587.3,502],[588.5,530],[589.7,561],[590.8,580],[592,590],[593.2,575],[594.4,561],[595.5,600],[596.7,679],[597.6,730],[598.5,767],[599.3,720],[600.2,679],[601.4,665],[602.6,649],[603.8,640],[604.9,635],[606,628],[607.2,605],[608.4,580],[609.6,561],[610.8,575],[611.9,590],[613.1,605],[614.3,620],[615.5,640],[616.6,664],[617.8,675],[618.9,694],[620.1,700],[621.3,708],[622.5,725],[623.6,753],[624.8,760],[626,767],[627.2,840],[628.3,915],[629.5,1030],[630.6,1151],[631.5,1240],[632.4,1328],[633.3,1345],[634.2,1358],[635,1320],[635.9,1299],[636.8,1330],[637.7,1343],[638.6,1310],[639.4,1284],[640.3,1300],[641.2,1328],[642,1320],[642.9,1314],[643.8,1210],[644.7,1107],[645.9,1100],[647,1092],[648.2,1070],[649.4,1048],[650.3,1025],[651.1,1004],[652,1010],[652.9,1018],[654,1000],[655.2,974],[656.4,910],[657.6,841],[658.7,860],[659.9,886],[661.1,900],[662.3,915],[663.4,880],[664.6,841],[665.8,810],[666.9,782],[668.1,740],[669.3,679],[670.5,630],[671.6,590],[672.8,575],[674,561],[675.1,520],[676.3,472],[677.5,440],[678.6,413],[679.8,450],[681,502],[682.2,470],[683.3,398],[684.5,385],[685.7,369],[686.9,360],[688,354],[689.2,340],[690.4,325],[691.8,312],[693.3,298],[694.7,305],[696.2,325],[697.4,345],[698.5,369],[699.7,375],[700.9,384],[702.4,420],[703.8,457],[705.2,510],[706.7,561],[708.2,590],[709.7,620],[711.1,640],[712.6,664],[713.8,685],[714.9,708],[716.1,720],[717.3,753],[718.2,800],[719,856],[719.6,800],[720.2,767],[721.1,840],[722,930],[722.6,945],[723.1,900],[723.7,800],[724.3,767],[725.2,720],[726,694],[726.9,670],[727.8,649],[728.7,660],[729.6,679],[730.4,670],[731.3,664],[732.2,640],[733.1,605],[734,560],[734.8,517],[735.7,490],[736.6,472],[737.5,480],[738.3,487],[739.2,520],[740.1,561],[741,590],[741.9,620],[743,615],[744.2,605],[745.3,590],[746.5,561],[747.7,555],[748.9,546],[750,560],[751.2,576],[752.4,578],[753.6,583],[754.7,560],[755.9,531],[757,510],[758.2,487],[759.4,560],[760.6,679],[761.5,690],[762.3,694],[763.2,660],[764.1,620],[765,660],[765.9,708],[766.8,745],[767.6,753],[768.5,740],[769.4,723],[770.2,690],[771.1,649],[772.3,660],[773.5,679],[774.6,675],[775.8,664],[777,666],[778.2,664],[779.3,656],[780.5,649],[781.7,640],[782.8,620],[784,605],[785.2,590],[786.4,575],[787.5,561],[788.7,600],[789.9,649],[791,700],[792.2,797],[793.4,860],[794.5,915],[796,970],[797.5,1033],[798.6,1060],[799.8,1077],[801,1085]];

const co2Gaps = [[0,80],[0.5,150],[1,60],[1.5,120],[2,70],[2.5,180],[3,90],[3.5,130],[4,60],[4.5,200],[5,100],[5.5,160],[6,80],[6.5,210],[7,120],[7.5,180],[8,90],[8.5,230],[9,130],[9.5,260],[10,110],[10.5,200],[11,150],[11.5,300],[12,140],[12.5,260],[13,170],[13.5,380],[14,180],[14.5,320],[15,200],[15.5,400],[16,220],[16.5,350],[17,250],[17.5,440],[18,260],[18.5,380],[19,300],[19.5,420],[20.1,400],[21,900],[22,2000],[24.2,3162],[26,3100],[27.7,3064],[30.1,967],[33,3064],[35.3,4997],[38.3,2474],[41.2,4440],[44.1,6026],[47,3785],[50,836],[53.5,1819],[57,4702],[58.7,574],[62.8,5193],[65.8,967],[68.7,5108],[71,5095],[74,2179],[77.5,3916],[79.8,1032],[81.6,2408],[84.5,705],[87.4,1294],[90.4,2408],[93.3,901],[96.8,3129],[100.3,5488],[103.2,967],[105,1688],[106.5,1000],[108,967],[109.7,1917],[111,900],[112,574],[113.8,2048],[115.5,508],[116.5,1100],[117.9,1360],[119,700],[120.2,770],[121.3,1100],[122.5,1294],[123.7,800],[124.9,508],[126.5,900],[128.4,1360],[129.5,600],[130.5,900],[131.3,377],[132,800],[132.8,500],[133.5,1000],[134.3,246],[135,700],[135.7,300],[136.4,1100],[137.2,1294],[137.9,400],[138.6,700],[139.3,250],[140.1,180],[140.8,600],[141.5,300],[142.2,700],[143,836],[143.8,400],[144.6,1500],[145.4,3129],[146.2,2000],[147.1,3391],[148.3,3300],[149.5,3457],[150.7,1500],[151.8,377],[153,1000],[154.2,1819],[155,2500],[155.9,3064],[156.8,1500],[157.7,377],[158.8,2000],[160,3752],[161.2,2000],[162.3,508],[163.5,1753],[164.4,900],[165.3,442],[166.5,1500],[167.6,2736],[169,1800],[170.5,1556],[171.4,2000],[172.3,2474],[173.7,1500],[175.2,836],[176.7,1200],[178.2,1884],[179.6,1200],[181.1,770],[182.5,1500],[184,2605],[185.4,1600],[186.9,508],[188.4,900],[189.9,1425],[191.3,1100],[192.8,967],[194,1800],[195.1,2802],[196.3,1500],[197.5,508],[198.6,1000],[199.8,1884],[201,1000],[202.1,377],[203.3,900],[204.5,1294],[206,900],[207.4,508],[208.9,400],[210.3,311],[211.8,450],[213.3,574],[214.7,800],[216.2,1098],[217.6,1500],[219.1,2015],[220.5,1200],[222,574],[223.5,1400],[225,2277],[226.5,1300],[227.9,508],[229,1000],[230.2,1819],[231.4,1000],[232.6,508],[234,2000],[235.5,3785],[236.7,2000],[237.8,639],[239,700],[240.2,770],[241.3,500],[242.5,377],[244,600],[245.5,770],[247,1500],[248.4,2212],[249.8,2300],[251.3,2408],[252.4,1500],[253.6,901],[254.3,1032],[255,950],[256,1163],[257.2,1884],[258.3,1425],[259.2,1200],[260.2,770],[261.3,1200],[262.5,1688],[263.6,1000],[264.8,574],[266,800],[267.2,1098],[268.3,1050],[269.5,1032],[271.9,999],[274.8,967],[277.7,967],[280.6,934],[282,1400],[283.6,2015],[284.7,1200],[285.9,508],[287,1100],[288.2,1884],[289.4,1100],[290.6,574],[291.7,1200],[292.9,1950],[294.1,1300],[295.3,967],[296.4,700],[297.6,508],[298.8,700],[300,901],[301.1,1100],[302.3,1294],[303.5,1000],[304.6,770],[305.8,1000],[307,1229],[308.2,900],[309.3,639],[310.5,850],[311.7,1098],[312.9,900],[314,705],[315.2,600],[316.3,574],[317.5,650],[318.7,705],[319.9,770],[321,836],[322.2,1200],[323.4,1688],[324.5,1200],[325.7,770],[326.9,800],[328.1,770],[329.3,700],[330.4,639],[331.6,580],[332.7,508],[333.6,350],[334.5,180],[335.3,400],[336.2,639],[337.4,700],[338.6,770],[339.8,1300],[340.9,1884],[342.1,1600],[343.3,1163],[344.2,1300],[345,1491],[345.9,1600],[346.8,1688],[348,2000],[349.1,2343],[350,1800],[350.9,1360],[351.8,1700],[352.6,2081],[353.8,1700],[355,1556],[355.8,2300],[356.7,3031],[357.6,2200],[358.5,1622],[359.6,1900],[360.8,2146],[361.7,2200],[362.6,2277],[363.8,2400],[364.9,2474],[366.1,2700],[367.3,2834],[368.1,2000],[369,1622],[370.2,1580],[371.4,1556],[372.6,1600],[373.7,1622],[374.9,1700],[376,1819],[376.9,3000],[377.8,3916],[378.7,2500],[379.6,1556],[380.7,1556],[381.9,1556],[383,1590],[384.2,1622],[385.4,1622],[386.6,1622],[387.2,1200],[387.8,770],[389,1500],[390.1,1884],[391.3,1900],[392.5,1950],[393.7,1200],[394.8,705],[396,1000],[397.1,1425],[398,2500],[398.9,3522],[399.5,2000],[400,770],[400.9,1200],[401.8,1491],[402.7,900],[403.6,442],[404.5,1000],[405.3,1491],[406.5,1000],[407.6,770],[408.5,1100],[409.4,1425],[410.3,900],[411.2,508],[412.3,1000],[413.5,1360],[414.7,800],[415.8,442],[417,800],[418.2,1032],[419.4,800],[420.5,574],[421.7,900],[422.9,1163],[424,800],[425.2,508],[426.4,400],[427.6,311],[428.7,700],[429.9,1032],[431,1100],[432.2,1163],[433.4,1200],[434.6,1229],[435.7,1200],[436.9,1163],[438.1,1200],[439.3,1294],[440.4,800],[441.6,442],[442.5,1000],[443.4,1622],[444.3,1300],[445.1,1163],[446.2,1200],[447.4,1229],[448.6,1200],[449.8,1163],[450.9,1250],[452.1,1294],[453.3,900],[454.5,508],[455.6,900],[456.8,1229],[458,1300],[459.2,1425],[460.3,1425],[461.5,1425],[462.6,1400],[463.8,1360],[465,1250],[466.2,1163],[467.3,1000],[468.5,770],[469.7,650],[470.9,508],[472,650],[473.2,770],[474.4,1000],[475.5,1163],[476.7,1000],[477.9,901],[479,901],[480.2,901],[481.4,830],[482.6,770],[483.7,770],[484.9,770],[486.1,650],[487.3,508],[488.4,650],[489.6,770],[490.5,500],[491.3,246],[492.2,500],[493.1,770],[494.3,750],[495.4,737],[496.6,760],[497.8,770],[499,745],[500.1,737],[501.5,740],[503,737],[504.5,745],[506,770],[507.5,750],[508.9,737],[510.4,740],[511.8,737],[513.3,720],[514.8,705],[516.2,690],[517.7,672],[519.2,690],[520.6,705],[521.5,1300],[522.4,1917],[523.2,1300],[524.1,770],[525.3,700],[526.5,574],[528,540],[529.4,508],[530.5,450],[531.7,377],[532.9,700],[534.1,1131],[535.2,1163],[536.4,1163],[537.6,1163],[538.8,1163],[540,1180],[541.1,1196],[543.5,1163],[545.7,1131],[547.5,1050],[549.3,967],[550.5,870],[551.6,770],[552.8,680],[553.9,574],[555.1,450],[556.3,377],[557.5,300],[558.6,246],[559.8,380],[561,508],[562.2,460],[563.3,442],[564.5,420],[565.6,410],[566.8,395],[568,377],[569.1,395],[570.3,410],[571.5,425],[572.7,442],[573.8,475],[575,508],[576.2,540],[577.3,574],[578.5,540],[579.7,508],[580.8,380],[582,246],[583.2,380],[584.4,508],[585.6,570],[586.7,639],[587.6,1800],[588.5,2998],[589,1800],[589.6,574],[590.5,610],[591.4,705],[592.6,740],[593.7,770],[594.6,900],[595.5,1032],[596.4,980],[597.2,901],[598.4,1000],[599.6,1163],[600.5,1300],[601.3,1425],[602.2,1440],[603.1,1458],[604.3,1440],[605.4,1425],[606.6,1360],[607.8,1294],[608.9,1260],[610.1,1229],[611.3,1300],[612.5,1360],[613.6,1400],[614.8,1425],[616,1360],[617.1,1294],[618.3,1360],[619.5,1425],[620.6,1440],[621.8,1458],[623,1470],[624.2,1491],[625.3,1470],[626.5,1458],[627.1,1000],[627.7,639],[628.3,1100],[628.9,1163],[629.5,900],[630.1,1500],[630.6,1622],[631.2,1000],[631.8,780],[632.4,1163],[632.9,1600],[633.5,1720],[634.1,1100],[634.7,760],[635.3,770],[635.9,1650],[636.5,1688],[637,1000],[637.6,700],[638.2,639],[638.8,1500],[639.4,1622],[640,900],[640.5,650],[641.1,836],[641.7,1550],[642.3,1688],[642.9,900],[643.5,620],[644.1,770],[644.6,1450],[645.2,1520],[645.8,1425],[646.4,800],[647,600],[647.6,639],[648.2,1350],[648.8,1380],[649.3,1294],[649.9,700],[650.5,560],[651.1,574],[651.7,1250],[652.3,1300],[652.9,1229],[653.5,640],[654.1,520],[654.6,574],[655.2,1150],[655.8,1200],[656.4,1100],[657,560],[657.6,480],[658.2,500],[658.8,1050],[659.4,1080],[660,1000],[660.5,500],[661.1,430],[661.7,460],[662.3,980],[662.9,1000],[663.5,930],[664.1,460],[664.7,390],[665.2,420],[665.8,900],[666.4,920],[667,860],[667.6,400],[668.2,350],[668.8,380],[669.4,830],[670,840],[670.5,780],[671.1,360],[671.7,320],[672.3,340],[672.9,760],[673.5,770],[674.1,700],[674.7,330],[675.3,290],[675.8,310],[676.4,690],[677,700],[677.6,640],[678.2,300],[678.8,270],[679.4,280],[680,640],[680.6,650],[681.1,590],[681.7,270],[682.3,250],[682.9,260],[683.5,590],[684.1,600],[684.7,540],[685.3,250],[685.9,230],[686.4,240],[687,550],[687.6,560],[688.2,500],[688.8,230],[689.4,215],[690,225],[690.6,520],[691.2,530],[691.7,470],[692.3,220],[692.9,213],[693.5,220],[694.1,500],[694.7,508],[695.3,460],[695.9,215],[696.5,213],[697,230],[697.6,510],[698.2,520],[698.8,470],[699.4,230],[700,240],[700.6,260],[701.2,560],[701.8,580],[702.3,520],[702.9,280],[703.5,290],[704.1,320],[704.7,640],[705.3,680],[705.9,600],[706.5,330],[707.1,350],[707.6,400],[708.2,760],[708.8,800],[709.4,700],[710,400],[710.6,500],[711.2,900],[711.8,1800],[712.4,3260],[712.9,1500],[713.5,700],[714.1,1030],[714.7,500],[715.3,300],[715.9,900],[716.5,1032],[717.1,400],[717.7,250],[718.2,800],[718.8,967],[719.4,350],[720,246],[720.6,700],[721.2,1000],[721.8,400],[722.4,280],[723,850],[723.5,1032],[724.1,500],[724.7,311],[725.3,700],[725.9,967],[726.5,450],[727.1,246],[727.7,750],[728.2,1000],[728.8,600],[729.4,300],[730,800],[730.6,1360],[731.2,700],[731.8,280],[732.4,650],[732.9,934],[733.5,500],[734.1,246],[734.7,700],[735.3,1000],[735.9,450],[736.5,280],[737.1,800],[737.6,1032],[738.2,500],[738.8,311],[739.4,650],[740,934],[740.6,400],[741.2,246],[741.8,700],[742.4,1000],[742.9,550],[743.5,280],[744.1,900],[744.7,1100],[745.3,600],[745.9,311],[746.5,700],[747.1,967],[747.6,450],[748.2,246],[748.8,800],[749.4,1032],[750,500],[750.6,280],[751.2,700],[751.8,900],[752.4,400],[752.9,246],[753.5,800],[754.1,1000],[754.7,600],[755.3,311],[755.9,750],[756.5,1100],[757.1,500],[757.6,246],[758.2,700],[758.8,1000],[759.4,450],[760,280],[760.6,900],[761.2,1163],[761.8,550],[762.4,311],[762.9,800],[763.5,1032],[764.1,500],[764.7,246],[765.3,750],[765.9,1000],[766.5,450],[767.1,280],[767.6,850],[768.2,1100],[768.8,600],[769.4,311],[770,700],[770.6,967],[771.2,400],[771.8,246],[772.4,800],[772.9,1032],[773.5,500],[774.1,280],[774.7,900],[775.3,1163],[775.9,600],[776.5,311],[777.1,700],[777.6,1000],[778.2,450],[778.8,246],[779.4,800],[780,1032],[780.6,500],[781.2,280],[781.8,850],[782.4,1100],[782.9,550],[783.5,311],[784.1,750],[784.7,967],[785.3,450],[785.9,246],[786.5,900],[787.1,1163],[787.6,600],[788.2,280],[788.8,800],[789.4,1032],[790,500],[790.6,311],[791.2,950],[791.8,1229],[792.4,650],[792.9,280],[793.5,850],[794.1,1100],[794.7,550],[795.3,311],[795.9,900],[796.5,1294],[797.1,700],[797.6,350],[798.2,1000],[798.8,1360],[799.4,800],[800,1425]];

const xTicks = [0, 200000, 400000, 600000, 800000];
const xTitle = "Years before present";
const panels = [
  {data: temperature, label: "Temperature", yTicks: [-10, -5, 0, 5], left: 0, top: 0, mt: 13, mb: 69, ml: 66, mr: 13},
  {data: co2, label: "C02", yTicks: [180, 200, 220, 240, 260, 280, 300], left: 571, top: 0, mt: 13, mb: 69, ml: 71, mr: 8},
  {data: tempGaps, label: "Time differences", yTicks: [0, 200, 400, 600, 800, 1000, 1200, 1400], left: 0, top: 414, mt: 27, mb: 59, ml: 66, mr: 13},
  {data: co2Gaps, label: "Time differences", yTicks: [0, 1000, 2000, 3000, 4000, 5000, 6000], left: 571, top: 414, mt: 27, mb: 59, ml: 71, mr: 8}
];

function sci(d) {
  const [m, e] = d.toExponential(0).split("e");
  return m + "e" + e[0] + e.slice(1).padStart(2, "0");
}
function num(d) { return d < 0 ? "\u2212" + Math.abs(d) : String(d); }
function padded(ext) { const r = ext[1] - ext[0]; return [ext[0] - 0.04 * r, ext[1] + 0.04 * r]; }

const root = document.getElementById("chart");
for (const p of panels) {
  const xs = d3.extent(p.data, d => d[0] * 1000);
  const ys = d3.extent(p.data, d => d[1]);
  const svg = Plot.plot({
    width: 571, height: 414,
    marginTop: p.mt, marginBottom: p.mb, marginLeft: p.ml, marginRight: p.mr,
    style: {fontFamily: '"Liberation Sans", Arial, sans-serif', background: "transparent", color: "#000", overflow: "visible"},
    x: {domain: padded(xs)},
    y: {domain: padded(ys)},
    marks: [
      Plot.line(p.data, {x: d => d[0] * 1000, y: d => d[1], stroke: "#000", strokeWidth: 1.1}),
      Plot.frame({stroke: "#222", strokeWidth: 1}),
      Plot.axisX(xTicks, {tickFormat: sci, tickSize: 7, tickPadding: 16, lineAnchor: "middle", fontSize: 16, label: null}),
      Plot.axisY(p.yTicks, {tickFormat: num, tickSize: 7, tickPadding: 14, tickRotate: -90, textAnchor: "middle", lineAnchor: "middle", fontSize: 16, label: null}),
      Plot.text([p.label], {text: d => d, frameAnchor: "left", dx: -46, rotate: -90, textAnchor: "middle", lineAnchor: "middle", fontSize: 20}),
      Plot.text([xTitle], {text: d => d, frameAnchor: "bottom", dy: 46, textAnchor: "middle", lineAnchor: "middle", fontSize: 20})
    ]
  });
  svg.style.left = p.left + "px";
  svg.style.top = p.top + "px";
  root.appendChild(svg);
}
</script></body></html>
